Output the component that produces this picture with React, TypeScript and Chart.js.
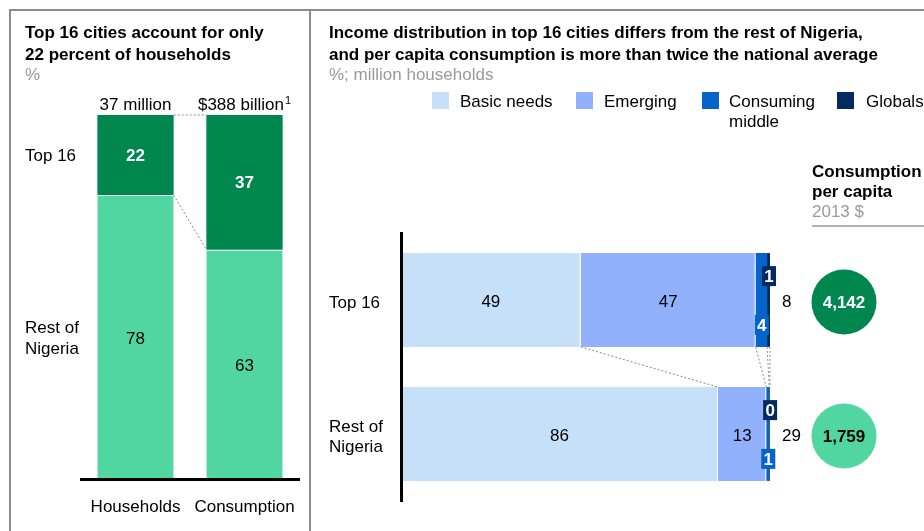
import React, { useEffect, useRef } from 'react';
import { Chart, registerables } from 'chart.js';
Chart.register(...registerables);

const FONT = '"Liberation Sans", Arial, Helvetica, sans-serif';
const W = 924;
const H = 531;

// ---------- Left panel data ----------
const shareCategories = ['Households', 'Consumption'];
const shareTotals = ['37 million', '$388 billion'];
const shareTotalNotes = ['', '1'];
const top16Share = [22, 37];
const restShare = [78, 63];
const shareRowLabels: (string | string[])[] = ['Top 16', ['Rest of', 'Nigeria']];

// ---------- Right panel data ----------
const incomeRows: (string | string[])[] = ['Top 16', ['Rest of', 'Nigeria']];
const segmentNames: string[][] = [['Basic needs'], ['Emerging'], ['Consuming', 'middle'], ['Globals']];
const basicNeeds = [48.7, 85.9];
const emerging = [47.4, 13.1];
const consumingMiddle = [3.1, 0.8];
const globals = [0.8, 0.2];
const basicLabels = ['49', '86'];
const emergingLabels = ['47', '13'];
const consumingLabels = ['4', '1'];
const globalsLabels = ['1', '0'];
const householdsMillion = [8, 29];
const consumptionPerCapita = [4142, 1759];

// ---------- Colours ----------
const DARK_GREEN = '#00874f';
const LIGHT_GREEN = '#51d6a1';
const SEG_COLORS = ['#c7e0fa', '#92b1fd', '#0563cc', '#032b5e'];
const GRAY = '#9a9a9a';
const FRAME = '#8c8c8c';

// draw text with its cap-height centre at cy
function textAt(ctx: CanvasRenderingContext2D, s: string, x: number, cy: number) {
  ctx.textBaseline = 'alphabetic';
  ctx.fillText(s, x, cy + 6);
}

function dashed(ctx: CanvasRenderingContext2D, x1: number, y1: number, x2: number, y2: number) {
  ctx.save();
  ctx.strokeStyle = '#8a8a8a';
  ctx.lineWidth = 1;
  ctx.setLineDash([2, 2]);
  ctx.beginPath();
  ctx.moveTo(x1, y1);
  ctx.lineTo(x2, y2);
  ctx.stroke();
  ctx.restore();
}

const leftPlugin = {
  id: 'leftDecor',
  afterDatasetsDraw(chart: any) {
    const ctx: CanvasRenderingContext2D = chart.ctx;
    const rest = chart.getDatasetMeta(0).data;
    const top = chart.getDatasetMeta(1).data;
    const yScale = chart.scales.y;
    ctx.save();
    // connectors
    const hh = top[0];
    const cs = top[1];
    dashed(ctx, hh.x + hh.width / 2, hh.y, cs.x - cs.width / 2, cs.y);
    dashed(ctx, hh.x + hh.width / 2, hh.base, cs.x - cs.width / 2, cs.base);
    // values
    ctx.textAlign = 'center';
    for (let i = 0; i < shareCategories.length; i++) {
      const t = top[i];
      ctx.font = `bold 17px ${FONT}`;
      ctx.fillStyle = '#ffffff';
      textAt(ctx, String(top16Share[i]), t.x, (t.y + t.base) / 2);
      const r = rest[i];
      ctx.font = `17px ${FONT}`;
      ctx.fillStyle = '#000000';
      textAt(ctx, String(restShare[i]), r.x, (r.y + r.base) / 2 + 1);
    }
    // totals above bars
    ctx.fillStyle = '#000';
    for (let i = 0; i < shareCategories.length; i++) {
      const t = top[i];
      const main = shareTotals[i];
      const note = shareTotalNotes[i];
      ctx.font = `17px ${FONT}`;
      const wMain = ctx.measureText(main).width;
      ctx.font = `11px ${FONT}`;
      const wNote = note ? ctx.measureText(note).width + 1 : 0;
      const startX = t.x - (wMain + wNote) / 2;
      const baseY = chart.chartArea.top - 5;
      ctx.textAlign = 'left';
      ctx.textBaseline = 'alphabetic';
      ctx.font = `17px ${FONT}`;
      ctx.fillText(main, startX, baseY);
      if (note) {
        ctx.font = `11px ${FONT}`;
        ctx.fillText(note, startX + wMain + 1, baseY - 6);
      }
    }
    // row labels
    ctx.textAlign = 'left';
    ctx.font = `17px ${FONT}`;
    const mids = [restShare[0] + top16Share[0] / 2, restShare[0] / 2];
    shareRowLabels.forEach((lab, i) => {
      const lines = Array.isArray(lab) ? lab : [lab];
      const cy = yScale.getPixelForValue(mids[i]);
      lines.forEach((ln, k) => {
        textAt(ctx, ln, 25, cy + (k - (lines.length - 1) / 2) * 21);
      });
    });
    ctx.restore();
  },
};

const rightPlugin = {
  id: 'rightDecor',
  afterDatasetsDraw(chart: any) {
    const ctx: CanvasRenderingContext2D = chart.ctx;
    const metas = [0, 1, 2, 3].map((i) => chart.getDatasetMeta(i).data);
    const area = chart.chartArea;
    const yScale = chart.scales.y;
    ctx.save();
    // connectors between the two bars
    for (let k = 0; k < 4; k++) {
      const a = metas[k][0];
      const b = metas[k][1];
      dashed(ctx, a.x, a.y + a.height / 2, b.x, b.y - b.height / 2);
    }
    const big = [basicLabels, emergingLabels];
    for (let r = 0; r < 2; r++) {
      const rowY = yScale.getPixelForValue(r);
      // row label
      ctx.fillStyle = '#000';
      ctx.textAlign = 'left';
      ctx.font = `17px ${FONT}`;
      const lab = incomeRows[r];
      const lines = Array.isArray(lab) ? lab : [lab];
      lines.forEach((ln, k) => {
        textAt(ctx, ln, 329, rowY + 1.5 + (k - (lines.length - 1) / 2) * 20);
      });
      // big segment labels
      ctx.textAlign = 'center';
      for (let k = 0; k < 2; k++) {
        const el = metas[k][r];
        textAt(ctx, big[k][r], (el.x + el.base) / 2, el.y + 1);
      }
      // small boxed labels
      const cm = metas[2][r];
      const gl = metas[3][r];
      const boxes = [
        { el: cm, text: consumingLabels[r], color: SEG_COLORS[2], cy: cm.y + cm.height / 2 - 22 },
        { el: gl, text: globalsLabels[r], color: SEG_COLORS[3], cy: gl.y - gl.height / 2 + 23 },
      ];
      boxes.forEach((b) => {
        const cx = (b.el.x + b.el.base) / 2 + 0.5;
        ctx.fillStyle = b.color;
        ctx.fillRect(cx - 7, b.cy - 10, 14, 20);
        ctx.fillStyle = '#fff';
        ctx.font = `bold 17px ${FONT}`;
        ctx.textAlign = 'center';
        textAt(ctx, b.text, cx, b.cy);
      });
      // households total
      ctx.fillStyle = '#000';
      ctx.textAlign = 'left';
      ctx.font = `17px ${FONT}`;
      textAt(ctx, String(householdsMillion[r]), area.right + 12, rowY + 1);
      // consumption per capita circle
      const cy = rowY + 2;
      const cx = 844;
      ctx.beginPath();
      ctx.arc(cx, cy, 32.5, 0, Math.PI * 2);
      ctx.fillStyle = r === 0 ? DARK_GREEN : LIGHT_GREEN;
      ctx.fill();
      ctx.fillStyle = r === 0 ? '#fff' : '#000';
      ctx.font = `bold 17px ${FONT}`;
      ctx.textAlign = 'center';
      textAt(ctx, consumptionPerCapita[r].toLocaleString('en-US'), cx, cy);
    }
    ctx.restore();
  },
};

function LeftChart() {
  const ref = useRef<HTMLCanvasElement>(null);
  useEffect(() => {
    const chart = new Chart(ref.current as HTMLCanvasElement, {
      type: 'bar',
      data: {
        labels: shareCategories,
        datasets: [
          {
            label: 'Rest of Nigeria',
            data: restShare,
            backgroundColor: LIGHT_GREEN,
            borderColor: '#ffffff',
            borderWidth: { top: 1, left: 0, right: 0, bottom: 0 },
            borderSkipped: false,
            categoryPercentage: 1,
            barPercentage: 0.7,
          },
          {
            label: 'Top 16',
            data: top16Share,
            backgroundColor: DARK_GREEN,
            borderWidth: 0,
            categoryPercentage: 1,
            barPercentage: 0.7,
          },
        ],
      },
      options: {
        responsive: false,
        animation: false,
        events: [],
        layout: { padding: { left: 81, right: W - 299, top: 115, bottom: 0 } },
        plugins: { legend: { display: false }, tooltip: { enabled: false } },
        scales: {
          x: {
            stacked: true,
            grid: { display: false, drawTicks: false },
            border: { display: true, color: '#000', width: 3, z: 1 },
            ticks: { font: { family: FONT, size: 17 }, color: '#000', padding: 18, maxRotation: 0 },
            afterFit: (s: any) => {
              s.height = 52;
            },
          },
          y: { stacked: true, display: false, min: 0, max: 100 },
        },
      },
      plugins: [leftPlugin],
    } as any);
    return () => chart.destroy();
  }, []);
  return <canvas ref={ref} width={W} height={H} style={{ position: 'absolute', left: 0, top: 0, width: W, height: H }} />;
}

function RightChart() {
  const ref = useRef<HTMLCanvasElement>(null);
  useEffect(() => {
    const series = [basicNeeds, emerging, consumingMiddle, globals];
    const chart = new Chart(ref.current as HTMLCanvasElement, {
      type: 'bar',
      data: {
        labels: incomeRows,
        datasets: series.map((d, i) => ({
          label: segmentNames[i].join(' '),
          data: d,
          backgroundColor: SEG_COLORS[i],
          borderColor: '#ffffff',
          borderWidth: i < 2 ? { right: 1, left: 0, top: 0, bottom: 0 } : 0,
          borderSkipped: false,
          categoryPercentage: 1,
          barPercentage: 0.7,
        })),
      },
      options: {
        indexAxis: 'y',
        responsive: false,
        animation: false,
        events: [],
        layout: { padding: { left: 329, right: W - 770, top: 233, bottom: 30 } },
        plugins: { legend: { display: false }, tooltip: { enabled: false } },
        scales: {
          x: { stacked: true, display: false, min: 0, max: 100 },
          y: {
            stacked: true,
            grid: { display: false, drawTicks: false },
            border: { display: true, color: '#000', width: 3, z: 1 },
            ticks: { display: false },
            afterFit: (s: any) => {
              s.width = 72;
            },
          },
        },
      },
      plugins: [rightPlugin],
    } as any);
    return () => chart.destroy();
  }, []);
  return <canvas ref={ref} width={W} height={H} style={{ position: 'absolute', left: 0, top: 0, width: W, height: H }} />;
}

const txt = (extra: React.CSSProperties): React.CSSProperties => ({
  position: 'absolute',
  fontFamily: FONT,
  fontSize: 17,
  lineHeight: '22px',
  color: '#000',
  whiteSpace: 'nowrap',
  ...extra,
});

const legendPos = [
  { sq: 432, tx: 460 },
  { sq: 576, tx: 604 },
  { sq: 702, tx: 729 },
  { sq: 837, tx: 866 },
];

export default function App() {
  return (
    <div style={{ position: 'fixed', left: 0, top: 0, width: W, height: H, overflow: 'hidden', background: '#fff' }}>
      <div style={{ position: 'absolute', left: 9, top: 9, width: 1000, height: 700, border: `2px solid ${FRAME}` }} />
      <div style={{ position: 'absolute', left: 309, top: 9, width: 2, height: 700, background: FRAME }} />
      <LeftChart />
      <RightChart />
      <div style={txt({ left: 25, top: 22, fontWeight: 'bold' })}>
        Top 16 cities account for only
        <br />
        22 percent of households
      </div>
      <div style={txt({ left: 25, top: 64, color: GRAY })}>%</div>
      <div style={txt({ left: 329, top: 22, fontWeight: 'bold' })}>
        Income distribution in top 16 cities differs from the rest of Nigeria,
        <br />
        and per capita consumption is more than twice the national average
      </div>
      <div style={txt({ left: 329, top: 64, color: GRAY })}>%; million households</div>
      {segmentNames.map((name, i) => (
        <React.Fragment key={i}>
          <div style={{ position: 'absolute', left: legendPos[i].sq, top: 92, width: 17, height: 17, background: SEG_COLORS[i] }} />
          <div style={txt({ left: legendPos[i].tx, top: 92, lineHeight: '20px' })}>
            {name.map((ln, k) => (
              <div key={k}>{ln}</div>
            ))}
          </div>
        </React.Fragment>
      ))}
      <div style={txt({ left: 812, top: 162, fontWeight: 'bold', lineHeight: '20px' })}>
        Consumption
        <br />
        per capita
      </div>
      <div style={txt({ left: 812, top: 201, color: GRAY, lineHeight: '22px' })}>2013 $</div>
      <div style={{ position: 'absolute', left: 812, top: 225, width: 200, height: 2, background: '#b0b0b0' }} />
    </div>
  );
}
